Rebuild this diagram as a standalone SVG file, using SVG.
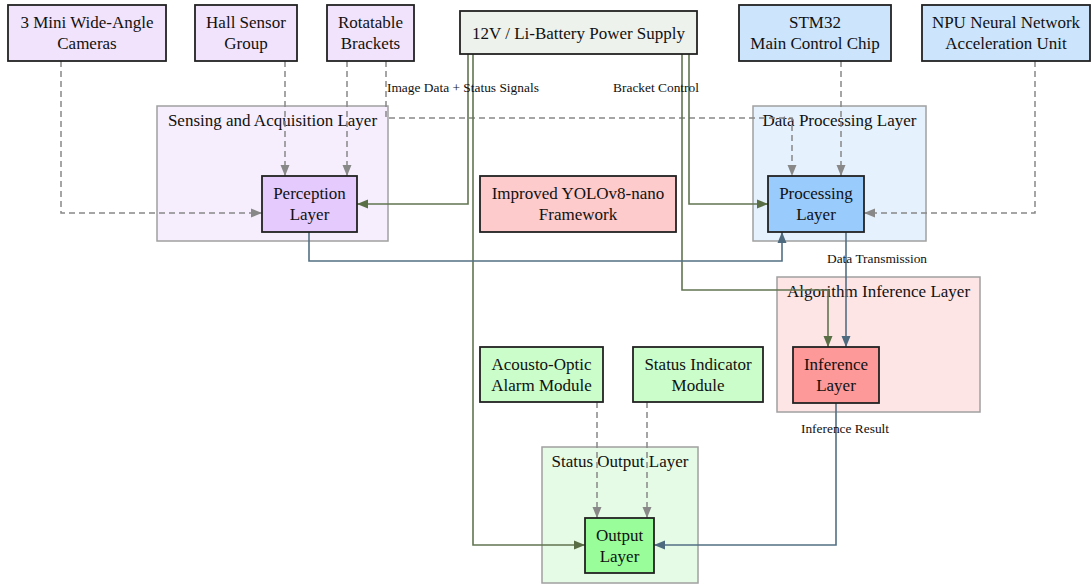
<svg xmlns="http://www.w3.org/2000/svg" width="1091" height="586" viewBox="0 0 1091 586">
<style>
text{font-family:"Liberation Serif","Times New Roman",serif;fill:#111}
.t{font-size:17px;text-anchor:middle}
.ct{font-size:17px;text-anchor:middle}
.el{font-size:13.4px}
.n{stroke:#222;stroke-width:1.8}
.cl{stroke:#a0a0a0;stroke-width:1.5}
.d{fill:none;stroke:#888;stroke-width:1.5;stroke-dasharray:6,4}
.g{fill:none;stroke:#627550;stroke-width:1.6}
.b{fill:none;stroke:#537084;stroke-width:1.6}
</style>
<defs>
<marker id="ad" markerUnits="userSpaceOnUse" markerWidth="12" markerHeight="10" refX="11" refY="5" orient="auto"><path d="M0,0.5 L11,5 L0,9.5 Z" fill="#888"/></marker>
<marker id="ag" markerUnits="userSpaceOnUse" markerWidth="12" markerHeight="10" refX="11" refY="5" orient="auto"><path d="M0,0.5 L11,5 L0,9.5 Z" fill="#5a6e46"/></marker>
<marker id="ab" markerUnits="userSpaceOnUse" markerWidth="12" markerHeight="10" refX="11" refY="5" orient="auto"><path d="M0,0.5 L11,5 L0,9.5 Z" fill="#4d6a7e"/></marker>
</defs>
<rect width="1091" height="586" fill="#fff"/>
<g id="clusters">
<g id="cluster-sensing"><rect class="cl" x="157" y="106" width="231" height="135" fill="#f6eefc"/><text class="ct" x="272.5" y="126">Sensing and Acquisition Layer</text></g>
<g id="cluster-processing"><rect class="cl" x="753" y="106" width="173" height="135" fill="#e5f1fd"/><text class="ct" x="839.5" y="126">Data Processing Layer</text></g>
<g id="cluster-inference"><rect class="cl" x="777" y="277" width="203" height="135" fill="#fde5e5"/><text class="ct" x="878.5" y="297">Algorithm Inference Layer</text></g>
<g id="cluster-output"><rect class="cl" x="542" y="447" width="156" height="136" fill="#e5fbe5"/><text class="ct" x="620" y="467">Status Output Layer</text></g>
</g>
<g id="connectors">
<path class="d" d="M61,61 V213 H262" marker-end="url(#ad)"/>
<path class="d" d="M285,61 V176" marker-end="url(#ad)"/>
<path class="d" d="M347,61 V176" marker-end="url(#ad)"/>
<path class="d" d="M386,61 V118 H792 V176" marker-end="url(#ad)"/>
<path class="d" d="M841,61 V176" marker-end="url(#ad)"/>
<path class="d" d="M1035,61 V213 H864" marker-end="url(#ad)"/>
<path class="d" d="M597,402 V518" marker-end="url(#ad)"/>
<path class="d" d="M647,402 V518" marker-end="url(#ad)"/>
<path class="g" d="M468,54 V204 H357" marker-end="url(#ag)"/>
<path class="g" d="M473,54 V545 H585" marker-end="url(#ag)"/>
<path class="g" d="M682,54 V290 H828 V347" marker-end="url(#ag)"/>
<path class="g" d="M689,54 V204 H768" marker-end="url(#ag)"/>
<path class="b" d="M309,232 V261 H782 V232" marker-end="url(#ab)"/>
<path class="b" d="M846,232 V347" marker-end="url(#ab)"/>
<path class="b" d="M836,403 V545 H654" marker-end="url(#ab)"/>
<text class="el" x="387" y="92">Image Data + Status Signals</text>
<text class="el" x="656" y="92" text-anchor="middle">Bracket Control</text>
<text class="el" x="827" y="263">Data Transmission</text>
<text class="el" x="845" y="433" text-anchor="middle">Inference Result</text>
</g>
<g id="cameras"><rect class="n" x="8" y="5" width="158" height="56" fill="#f1e3fb"/><text class="t" x="87" y="28">3 Mini Wide-Angle</text><text class="t" x="87" y="49">Cameras</text></g>
<g id="hall"><rect class="n" x="195" y="5" width="102" height="56" fill="#f1e3fb"/><text class="t" x="246" y="28">Hall Sensor</text><text class="t" x="246" y="49">Group</text></g>
<g id="brackets"><rect class="n" x="327" y="5" width="87" height="56" fill="#f1e3fb"/><text class="t" x="370.5" y="28">Rotatable</text><text class="t" x="370.5" y="49">Brackets</text></g>
<g id="power"><rect class="n" x="460" y="11" width="237" height="43" fill="#eef2ec"/><text class="t" x="578.5" y="39">12V / Li-Battery Power Supply</text></g>
<g id="stm32"><rect class="n" x="739" y="5" width="152" height="56" fill="#cce5fd"/><text class="t" x="815" y="28">STM32</text><text class="t" x="815" y="49">Main Control Chip</text></g>
<g id="npu"><rect class="n" x="922" y="5" width="168" height="56" fill="#cce5fd"/><text class="t" x="1006" y="28">NPU Neural Network</text><text class="t" x="1006" y="49">Acceleration Unit</text></g>
<g id="perception"><rect class="n" x="262" y="176" width="95" height="56" fill="#e5cbfd"/><text class="t" x="309.5" y="199">Perception</text><text class="t" x="309.5" y="220">Layer</text></g>
<g id="yolo"><rect class="n" x="480" y="176" width="196" height="56" fill="#fdcbcb"/><text class="t" x="578" y="199">Improved YOLOv8-nano</text><text class="t" x="578" y="220">Framework</text></g>
<g id="processing"><rect class="n" x="768" y="176" width="96" height="56" fill="#99cbfd"/><text class="t" x="816" y="199">Processing</text><text class="t" x="816" y="220">Layer</text></g>
<g id="inference"><rect class="n" x="793" y="347" width="86" height="56" fill="#fd9999"/><text class="t" x="836" y="370">Inference</text><text class="t" x="836" y="391">Layer</text></g>
<g id="acousto"><rect class="n" x="480" y="347" width="123" height="55" fill="#cbfdcb"/><text class="t" x="541.5" y="370">Acousto-Optic</text><text class="t" x="541.5" y="391">Alarm Module</text></g>
<g id="status"><rect class="n" x="633" y="347" width="130" height="55" fill="#cbfdcb"/><text class="t" x="698" y="370">Status Indicator</text><text class="t" x="698" y="391">Module</text></g>
<g id="output"><rect class="n" x="585" y="518" width="69" height="55" fill="#99fd99"/><text class="t" x="619.5" y="541">Output</text><text class="t" x="619.5" y="562">Layer</text></g>
</svg>
